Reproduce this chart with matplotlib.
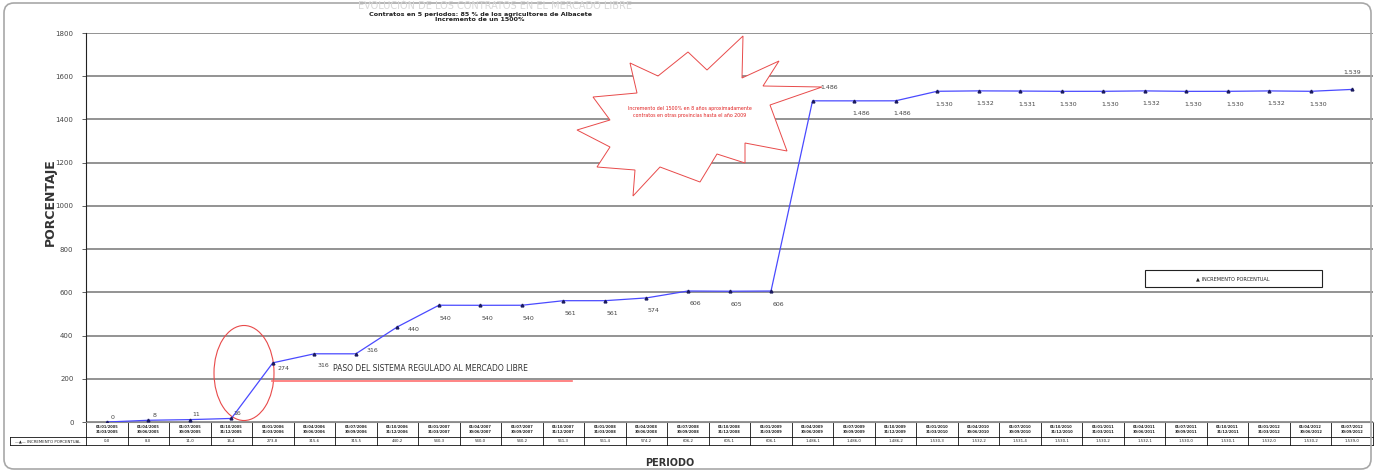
import matplotlib
matplotlib.use("Agg")
import matplotlib.pyplot as plt
import matplotlib.patches as mpatches
import matplotlib.transforms as mtransforms
import numpy as np

# datos
anios = [2005, 2006, 2007, 2008, 2009, 2010, 2011, 2012]
trimestres = [("01/01", "31/03"), ("01/04", "30/06"), ("01/07", "30/09"), ("01/10", "31/12")]
periodos = [f"{a}/{y}\n{b}/{y}" for y in anios for (a, b) in trimestres][:31]
valores = [0, 8.0, 11.0, 16.4, 273.8, 315.6, 315.5, 440.2, 540.3, 540.0, 540.2,
           561.3, 561.4, 574.2, 606.2, 605.1, 606.1, 1486.1, 1486.0, 1486.2,
           1530.3, 1532.2, 1531.4, 1530.1, 1530.2, 1532.1, 1530.0, 1530.1,
           1532.0, 1530.2, 1539.0]
serie = "INCREMENTO PORCENTUAL"
titulo = "Contratos en 5 periodos: 85 % de los agricultores de Albacete\nIncremento de un 1500%"
nota = "Incremento del 1500% en 8 años aproximadamente\ncontratos en otras provincias hasta el año 2009"

W, H = 1375, 473


def P(x, y):
    # pixel (origen arriba izquierda) -> fraccion de figura
    return (x / W, 1 - y / H)


def miles(v):
    return f"{v:,.0f}".replace(",", ".")


def decimal(v):
    return f"{v:,.1f}".replace(",", "X").replace(".", ",").replace("X", ".")


fig = plt.figure(figsize=(W / 100, H / 100), dpi=100)
fig.patch.set_facecolor("white")
ax = fig.add_axes([86 / W, 51 / H, 1287 / W, 389 / H])

x = np.arange(len(valores))
ax.plot(x, valores, color="#4a4aff", lw=0.9, marker="^", ms=2.0,
        mfc="#1a1a5e", mec="#1a1a5e", zorder=4)

ax.set_xlim(-0.5, len(valores) - 0.5)
ax.set_ylim(0, 1800)
ax.set_yticks(range(0, 1801, 200))
ax.set_xticks([])
ax.yaxis.grid(True, color="#8a8a8a", lw=1.3)
ax.set_axisbelow(True)
for s in ["top", "right"]:
    ax.spines[s].set_visible(False)
ax.spines["bottom"].set_color("#8a8a8a")
ax.spines["left"].set_color("#222222")
ax.spines["left"].set_linewidth(0.8)
ax.tick_params(axis="y", labelsize=5, length=3, width=0.6, colors="#444444", pad=6)

# etiquetas de datos
desplaz = {0: (6, 5), 1: (6, 5), 2: (6, 5), 3: (6, 5), 4: (11, -6), 5: (9, -12),
           6: (17, 3), 7: (16, -3), 17: (17, 13), 30: (0, 17)}
for i, v in enumerate(valores):
    dx, dy = desplaz.get(i, (7, -13))
    ax.annotate(miles(v), (i, v), xytext=(dx, dy), textcoords="offset pixels",
                ha="center", va="center", fontsize=4.5, color="#444444", zorder=5)

# tabla de datos bajo el eje
bt = mtransforms.blended_transform_factory(ax.transData, fig.transFigure)
y0, y1, y2 = 1 - 422 / H, 1 - 437 / H, 1 - 445 / H
for i in range(len(valores) + 1):
    ax.plot([i - 0.5, i - 0.5], [y0, y2], transform=bt, color="#111111",
            lw=0.6, clip_on=False)
for yy in [y1, y2]:
    ax.plot([-0.5, len(valores) - 0.5], [yy, yy], transform=bt, color="#111111",
            lw=0.6, clip_on=False)
for i, (p, v) in enumerate(zip(periodos, valores)):
    ax.text(i, (y0 + y1) / 2, p, transform=bt, ha="center", va="center",
            fontsize=2.6, fontweight="bold", color="#222222", linespacing=1.1)
    ax.text(i, (y1 + y2) / 2, decimal(v), transform=bt, ha="center", va="center",
            fontsize=2.8, color="#222222")
# celda de leyenda de la tabla
for yy in [437, 445]:
    fig.add_artist(plt.Line2D([10 / W, 86 / W], [1 - yy / H] * 2, color="#111111", lw=0.6))
fig.add_artist(plt.Line2D([10 / W] * 2, [1 - 437 / H, 1 - 445 / H], color="#111111", lw=0.6))
fig.text(*P(48, 441), "—▲— " + serie, ha="center", va="center", fontsize=2.8, color="#222222")

# titulos
fig.text(*P(495, 6), "EVOLUCIÓN DE LOS CONTRATOS EN EL MERCADO LIBRE", ha="center",
         va="center", fontsize=7, color="#d8d8d8")
fig.text(*P(480, 17), titulo, ha="center", va="center", fontsize=4.6,
         fontweight="bold", color="#222222", linespacing=1.2)
fig.text(*P(50, 202), "PORCENTAJE", rotation=90, ha="center", va="center",
         fontsize=9, fontweight="bold", color="#333333")
fig.text(*P(670, 463), "PERIODO", ha="center", va="center", fontsize=7,
         fontweight="bold", color="#333333")

# elipse y linea de cambio de sistema
ax.add_patch(mpatches.Ellipse(P(244, 373), 60 / W, 95 / H, transform=fig.transFigure,
                              fc="none", ec="#e84a4a", lw=0.8, zorder=3, clip_on=False))
ax.plot([272 / W, 572 / W], [1 - 381 / H] * 2, transform=fig.transFigure,
        color="#ff7070", lw=1.2, zorder=3)
fig.text(*P(333, 368), "PASO DEL SISTEMA REGULADO AL MERCADO LIBRE", ha="left",
         va="center", fontsize=5.5, color="#333333")

# estrella con la nota
estrella = [(743, 36), (742, 78), (779, 61), (763, 86), (822, 87), (770, 105),
            (787, 151), (745, 143), (745, 163), (717, 154), (700, 182), (660, 167),
            (633, 196), (635, 170), (597, 167), (610, 147), (577, 130), (610, 120),
            (593, 97), (637, 93), (630, 63), (658, 76), (688, 52), (707, 70)]
ax.add_patch(mpatches.Polygon([P(a, b) for a, b in estrella], closed=True,
                              transform=fig.transFigure, fc="white", ec="#e84a4a",
                              lw=0.7, zorder=3, clip_on=False))
fig.text(*P(690, 112), nota, ha="center", va="center", fontsize=3.4,
         color="#e02020", linespacing=1.4)

# leyenda
fig.add_artist(mpatches.Rectangle(P(1145, 287), 177 / W, 17 / H, transform=fig.transFigure,
                                  fc="white", ec="#222222", lw=0.8))
fig.text(*P(1233, 279), "▲ " + serie, ha="center", va="center", fontsize=3.6,
         color="#222222")

# marco exterior
fig.add_artist(mpatches.FancyBboxPatch((4, 4), 1367, 466, boxstyle="round,pad=0,rounding_size=10",
                                       transform=mtransforms.IdentityTransform(),
                                       fc="none", ec="#a8a8a8", lw=1.2))

fig.savefig("out.png", dpi=100)
